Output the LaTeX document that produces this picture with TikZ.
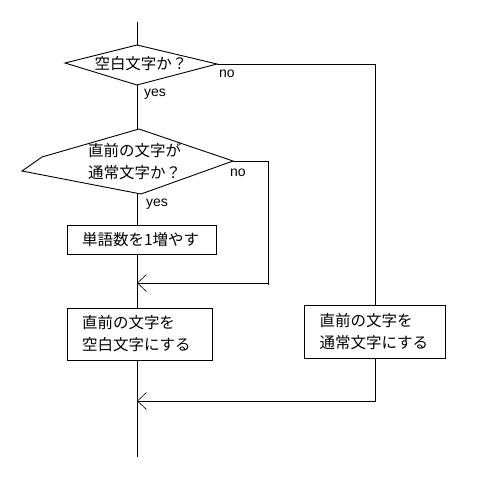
\documentclass[tikz,border=0pt]{standalone}
\usepackage{fontspec}
\setmainfont{Liberation Sans}
\newfontfamily\jpfont{Noto Sans CJK JP}
\usetikzlibrary{arrows.meta}
\begin{document}
\begin{tikzpicture}[x=1pt,y=-1pt,
  line/.style={draw=black,line width=0.9pt},
  arr/.style={line,-{Straight Barb[length=9pt,width=17pt,line width=0.6pt]}},
  jp/.style={font=\jpfont\fontsize{15.5}{22}\selectfont,inner sep=0pt},
  lbl/.style={font=\fontsize{14}{16}\selectfont,inner sep=0pt},
  proc/.style={draw=black,line width=0.9pt,font=\jpfont\fontsize{15.5}{22}\selectfont,
    align=left,inner xsep=15pt,inner ysep=0pt,anchor=center}]
\useasboundingbox[fill=white] (0,0) rectangle (479,491);
% coordinates
\coordinate (top) at (137,22);
\coordinate (d1t) at (137,45);
\coordinate (d1r) at (217,64);
\coordinate (d1b) at (137,85);
\coordinate (d1l) at (65,63);
\coordinate (d2t) at (139,129);
\coordinate (d2r) at (233,161);
\coordinate (d2b) at (141,194);
\coordinate (d2k) at (42,157);
\coordinate (d2l) at (22,171);
\coordinate (r2) at (268,283);
\coordinate (m1) at (137,283);
\coordinate (m2) at (137,401);
\coordinate (bot) at (137,457);
% decisions
\draw[line] (d1t) -- (d1r) -- (d1b) -- (d1l) -- cycle;
\draw[line] (d2t) -- (d2r) -- (d2b) -- (d2l) -- (d2k) -- cycle;
\node[jp] (t1) at (141,64) {空白文字か？};
\node[jp,align=left,anchor=west] (t2) at (88,162) {直前の文字が\\通常文字か？};
% processes
\node[proc,text width=119pt,minimum height=29pt] (b1) at (141.5,239.5) {単語数を1増やす};
\node[proc,text width=115pt,minimum height=52pt] (b2) at (139.5,334) {直前の文字を\\空白文字にする};
\node[proc,text width=111pt,minimum height=53pt] (b3) at (375,331.5) {直前の文字を\\通常文字にする};
% labels
\node[lbl] (no1) at (227,74) {no};
\node[lbl] (yes1) at (155,94) {yes};
\node[lbl] (no2) at (238,173) {no};
\node[lbl] (yes2) at (157,204) {yes};
% connectors
\draw[line] (top) -- (d1t);
\draw[line] (d1b) -- (d2t -| d1b);
\draw[line] (d2b -| top) -- (b1.north -| top);
\draw[line] (b1.south -| top) -- (b2.north -| top);
\draw[line] (b2.south -| top) -- (bot);
\draw[arr] (d2r) -- (d2r -| r2) -- (r2) -- (m1);
\draw[line] (r2) -- ++(0,2);
\draw[line] (d1r) -| (b3.north);
\draw[arr] (b3.south) |- (m2);
\end{tikzpicture}
\end{document}
